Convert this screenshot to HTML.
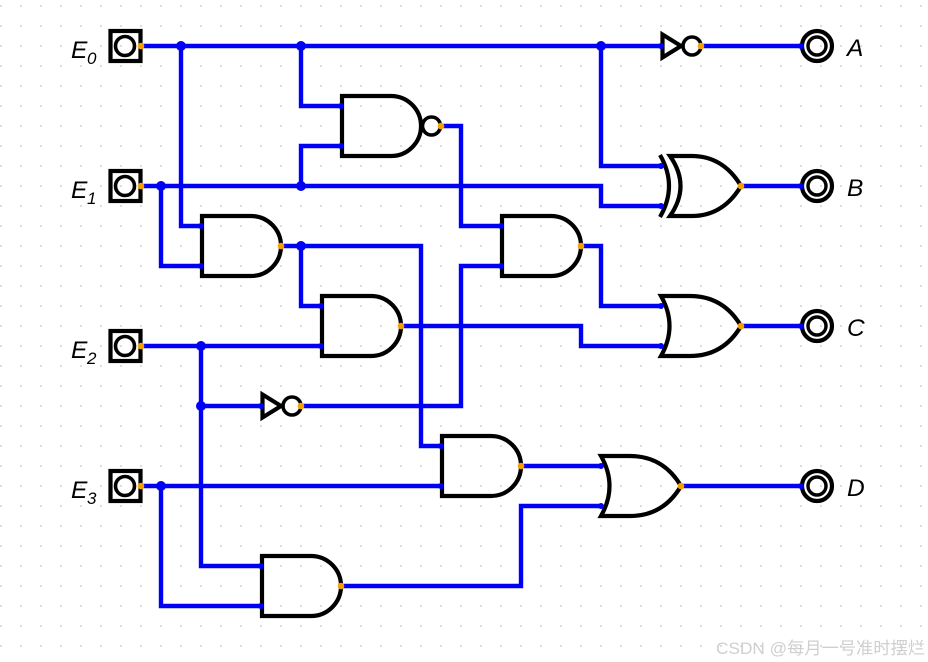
<!DOCTYPE html>
<html><head><meta charset="utf-8"><style>
html,body{margin:0;padding:0;background:#fff}
svg{display:block}
text{font-family:"Liberation Sans","Noto Sans CJK SC",sans-serif}
.l{font-style:italic;font-size:24.5px;fill:#000}
.s{font-style:italic;font-size:17px;fill:#000}
</style></head><body>
<svg width="928" height="662" viewBox="0 0 928 662" xmlns="http://www.w3.org/2000/svg">
<defs><pattern id="g" x="0" y="5" width="20" height="20" patternUnits="userSpaceOnUse"><rect x="0" y="0" width="2" height="2" fill="#dcdcdc"/></pattern></defs>
<rect width="928" height="662" fill="#fff"/>
<rect width="928" height="662" fill="url(#g)"/>
<g fill="none" stroke="#0000f5" stroke-width="4.4" stroke-linejoin="miter">
<path d="M141,46H661M181,46V226H201M301,46V106H341M301,186V146H341M601,46V166H661"/>
<path d="M141,186H601V206H661M161,186V266H201"/>
<path d="M281,246H421V446H441M301,246V306H321"/>
<path d="M401,326H581V346H661"/>
<path d="M141,346H321M201,346V566H261M201,406H261"/>
<path d="M301,406H461V266H501"/>
<path d="M441,126H461V226H501"/>
<path d="M581,246H601V306H661"/>
<path d="M741,326H801M741,186H801M681,486H801M701,46H801"/>
<path d="M521,466H601"/>
<path d="M141,486H441M161,486V606H261"/>
<path d="M341,586H521V506H601"/>
</g>
<g fill="#0000f5">
<circle cx="181" cy="46" r="5"/><circle cx="301" cy="46" r="5"/><circle cx="601" cy="46" r="5"/>
<circle cx="161" cy="186" r="5"/><circle cx="301" cy="186" r="5"/><circle cx="301" cy="246" r="5"/>
<circle cx="201" cy="346" r="5"/><circle cx="201" cy="406" r="5"/><circle cx="161" cy="486" r="5"/>
</g>
<g fill="none" stroke="#000" stroke-width="4.2">
<!-- inputs -->
<rect x="110.500" y="31" width="30" height="30"/><circle cx="125" cy="46" r="9.500" stroke-width="3.600"/>
<rect x="110.500" y="171" width="30" height="30"/><circle cx="125" cy="186" r="9.500" stroke-width="3.600"/>
<rect x="110.500" y="331" width="30" height="30"/><circle cx="125" cy="346" r="9.500" stroke-width="3.600"/>
<rect x="110.500" y="471" width="30" height="30"/><circle cx="125" cy="486" r="9.500" stroke-width="3.600"/>
<!-- outputs -->
<circle cx="817" cy="46" r="15"/><circle cx="817" cy="46" r="9" stroke-width="3.400"/>
<circle cx="817" cy="186" r="15"/><circle cx="817" cy="186" r="9" stroke-width="3.400"/>
<circle cx="817" cy="326" r="15"/><circle cx="817" cy="326" r="9" stroke-width="3.400"/>
<circle cx="817" cy="486" r="15"/><circle cx="817" cy="486" r="9" stroke-width="3.400"/>
<!-- NAND -->
<path d="M342,96H391A30,30 0 0 1 391,156H342Z"/><circle cx="431.500" cy="126" r="9" stroke-width="3.600"/>
<!-- AND -->
<path d="M202,216H251A30,30 0 0 1 251,276H202Z"/>
<path d="M322,296H371A30,30 0 0 1 371,356H322Z"/>
<path d="M502,216H551A30,30 0 0 1 551,276H502Z"/>
<path d="M442,436H491A30,30 0 0 1 491,496H442Z"/>
<path d="M262,556H311A30,30 0 0 1 311,616H262Z"/>
<!-- OR -->
<path d="M601,456Q618,486 601,516H630C650,516 668,508 681,486C668,464 650,456 630,456Z"/>
<path d="M661,296Q678,326 661,356H690C710,356 728,348 741,326C728,304 710,296 690,296Z"/>
<!-- XOR -->
<path d="M670,156Q691,186 670,216H692C710,216 728,208 741,186C728,164 710,156 692,156Z"/>
<path d="M660,155Q678,186 660,217"/>
<!-- NOT -->
<path d="M662.500,34.500L681,46L662.500,57.500Z"/><circle cx="692" cy="46" r="9" stroke-width="3.600"/>
<path d="M262.500,394.500L281,406L262.500,417.500Z"/><circle cx="292" cy="406" r="9" stroke-width="3.600"/>
</g>
<g fill="#0000f5">
<circle cx="341" cy="106" r="3"/><circle cx="341" cy="146" r="3"/><circle cx="201" cy="226" r="3"/><circle cx="201" cy="266" r="3"/>
<circle cx="321" cy="306" r="3"/><circle cx="321" cy="346" r="3"/><circle cx="501" cy="226" r="3"/><circle cx="501" cy="266" r="3"/>
<circle cx="441" cy="446" r="3"/><circle cx="441" cy="486" r="3"/><circle cx="261" cy="566" r="3"/><circle cx="261" cy="606" r="3"/>
<circle cx="601" cy="466" r="3"/><circle cx="601" cy="506" r="3"/><circle cx="661" cy="166" r="3"/><circle cx="661" cy="206" r="3"/>
<circle cx="661" cy="306" r="3"/><circle cx="661" cy="346" r="3"/><circle cx="661" cy="46" r="3"/><circle cx="261" cy="406" r="3"/>
<circle cx="801" cy="46" r="3"/><circle cx="801" cy="186" r="3"/><circle cx="801" cy="326" r="3"/><circle cx="801" cy="486" r="3"/>
</g>
<g fill="#f5a000">
<circle cx="141" cy="46" r="3.300"/><circle cx="141" cy="186" r="3.300"/><circle cx="141" cy="346" r="3.300"/><circle cx="141" cy="486" r="3.300"/>
<circle cx="441" cy="126" r="3.300"/><circle cx="281" cy="246" r="3.300"/><circle cx="401" cy="326" r="3.300"/><circle cx="581" cy="246" r="3.300"/>
<circle cx="521" cy="466" r="3.300"/><circle cx="341" cy="586" r="3.300"/><circle cx="681" cy="486" r="3.300"/><circle cx="741" cy="186" r="3.300"/>
<circle cx="741" cy="326" r="3.300"/><circle cx="701" cy="46" r="3.300"/><circle cx="301" cy="406" r="3.300"/>
</g>
<text class="l" x="71" y="58">E</text><text class="s" x="87" y="64">0</text>
<text class="l" x="71" y="198">E</text><text class="s" x="87" y="204">1</text>
<text class="l" x="71" y="358">E</text><text class="s" x="87" y="364">2</text>
<text class="l" x="71" y="498">E</text><text class="s" x="87" y="504">3</text>
<text class="l" x="847" y="56">A</text>
<text class="l" x="847" y="196">B</text>
<text class="l" x="847" y="336">C</text>
<text class="l" x="847" y="496">D</text>
<text x="716" y="654" font-size="17" fill="#cfcfcf" textLength="209" lengthAdjust="spacingAndGlyphs">CSDN @每月一号准时摆烂</text>
</svg>
</body></html>
